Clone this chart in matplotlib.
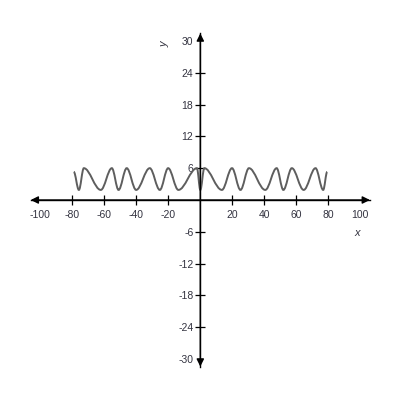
import matplotlib
matplotlib.use("Agg")
import matplotlib.pyplot as plt
from matplotlib.path import Path
from matplotlib.patches import PathPatch

plt.rcParams["font.family"] = ["Liberation Sans", "DejaVu Sans"]

# turning points of the curve (left end to right end)
curve_x = [-79.1, -75.9, -72.8, -62.2, -55.3, -51.1, -46.0, -40.1, -31.6,
           -25.3, -20.1, -13.7, -2.1, 0.0, 2.5, 13.5, 19.8, 25.1, 30.4,
           40.6, 47.7, 51.9, 57.2, 64.6, 72.0, 76.8, 79.3]
curve_y = [5.3, 1.9, 6.0, 1.9, 6.0, 1.9, 6.0, 1.9, 6.0,
           1.9, 6.0, 1.9, 6.0, 1.9, 6.0, 1.9, 6.0, 1.9, 6.0,
           1.9, 6.0, 1.9, 6.0, 1.9, 6.0, 1.9, 5.3]

x_ticks = [-100, -80, -60, -40, -20, 20, 40, 60, 80, 100]
y_ticks = [-30, -24, -18, -12, -6, 6, 12, 18, 24, 30]

x_extent = 106
y_extent = 31.4

fig = plt.figure(figsize=(4, 4), dpi=100)
ax = fig.add_axes([0, 0, 1, 1])
ax.set_xlim(-125.2, 124.8)
ax.set_ylim(-37.7, 37.7)

# smooth curve: cubic segments between turning points, flat at each extreme
verts = [(curve_x[0], curve_y[0])]
codes = [Path.MOVETO]
for i in range(1, len(curve_x)):
    x0, y0 = curve_x[i - 1], curve_y[i - 1]
    x1, y1 = curve_x[i], curve_y[i]
    d = x1 - x0
    verts += [(x0 + 0.36 * d, y0), (x1 - 0.36 * d, y1), (x1, y1)]
    codes += [Path.CURVE4] * 3
ax.add_patch(PathPatch(Path(verts, codes), fill=False, edgecolor="#5e5e5e",
                       lw=1.4, zorder=3))

# axes through the origin
for side in ("top", "right"):
    ax.spines[side].set_visible(False)
ax.spines["left"].set_position(("data", 0))
ax.spines["bottom"].set_position(("data", 0))
ax.spines["left"].set_bounds(-y_extent, y_extent)
ax.spines["bottom"].set_bounds(-x_extent, x_extent)
for side in ("left", "bottom"):
    ax.spines[side].set_linewidth(1.0)

ax.set_xticks(x_ticks, [str(t) for t in x_ticks])
ax.set_yticks(y_ticks, [str(t) for t in y_ticks])
ax.tick_params(direction="inout", length=7, width=0.9, labelsize=7.5,
               labelcolor="#333340")
ax.tick_params(axis="x", pad=3.5)
ax.tick_params(axis="y", pad=1.5)
# arrowheads sit on the end ticks
for tick in ax.xaxis.get_major_ticks():
    if abs(tick.get_loc()) == 100:
        tick.tick1line.set_visible(False)
for tick in ax.yaxis.get_major_ticks():
    if abs(tick.get_loc()) == 30:
        tick.tick1line.set_visible(False)

arrow = dict(arrowstyle="<|-|>", color="black", lw=1.0, mutation_scale=11,
             shrinkA=0, shrinkB=0)
ax.annotate("", xy=(x_extent, 0), xytext=(-x_extent, 0), arrowprops=arrow)
ax.annotate("", xy=(0, y_extent), xytext=(0, -y_extent), arrowprops=arrow)

ax.text(98, -6.3, "x", fontsize=8, style="italic", color="#333340",
        ha="center", va="center")
ax.text(-22.5, 29.4, "y", fontsize=8, style="italic", color="#333340",
        ha="center", va="center", rotation=90)

fig.savefig("out.png", dpi=100)
